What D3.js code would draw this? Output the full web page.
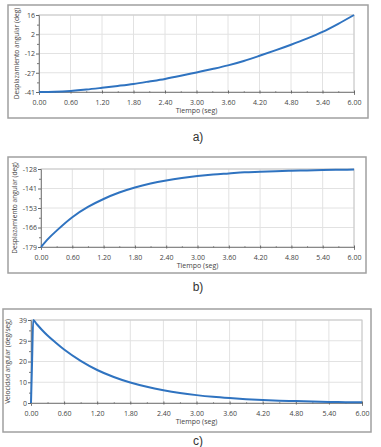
<!DOCTYPE html>
<html><head><meta charset="utf-8">
<script src="https://cdn.jsdelivr.net/npm/d3@7/dist/d3.min.js"></script>
<style>
body{margin:0;background:#fff;}
svg{display:block;font-family:"Open Sans","DejaVu Sans",sans-serif;}
</style></head>
<body><svg id="c" width="381" height="447"></svg>
<script>
// ---- data ----
const xTickLabels = ["0.00","0.60","1.20","1.80","2.40","3.00","3.60","4.20","4.80","5.40","6.00"];
const timeA = [0,0.3,0.6,0.9,1.2,1.5,1.8,2.1,2.4,2.7,3.0,3.3,3.6,3.9,4.2,4.5,4.8,5.1,5.4,5.7,6.0];
const despA = [-41,-40.8,-40.2,-39.2,-37.9,-36.5,-35,-33.2,-31.3,-29,-26.5,-24,-21.3,-18,-14.2,-10.2,-6,-1.5,3.5,9.5,16];
const yTicksA = ["-41","-27","-12","2","16"];

const timeB = [0,0.15,0.3,0.6,0.9,1.2,1.5,1.8,2.1,2.4,2.7,3.0,3.3,3.6,3.9,4.2,4.5,4.8,5.1,5.4,5.7,6.0];
const despB = [-179,-173.2,-168.3,-159.5,-152.8,-147.6,-143.4,-140.1,-137.5,-135.5,-133.9,-132.6,-131.6,-130.9,-130.2,-129.8,-129.4,-129.1,-128.9,-128.7,-128.5,-128.4];
const yTicksB = ["-179","-166","-153","-141","-128"];

const timeC = [0,0.02,0.04,0.1,0.2,0.3,0.45,0.6,0.9,1.2,1.5,1.8,2.1,2.4,2.7,3.0,3.3,3.6,3.9,4.2,4.5,4.8,5.1,5.4,5.7,6.0];
const velC  = [0,20,39,37.2,34.3,31.7,28.3,25.1,19.8,15.5,12.2,9.6,7.6,6.0,4.7,3.7,2.9,2.3,1.8,1.4,1.1,0.9,0.7,0.5,0.4,0.3];
const yTicksC = ["0","10","20","29","39"];

const panels = [
  {t:timeA, v:despA, yMin:-41, yMax:16, yLabels:yTicksA, yTitle:"Desplazamiento angular (deg)", cap:"a)",
   frame:[8,5,368,118], plot:[39,15,354,92], titleX:17, capY:141},
  {t:timeB, v:despB, yMin:-179, yMax:-128, yLabels:yTicksB, yTitle:"Desplazamiento angular (deg)", cap:"b)",
   frame:[8,157,366,273], plot:[41,169,354,247], titleX:15, capY:291},
  {t:timeC, v:velC, yMin:0, yMax:39, yLabels:yTicksC, yTitle:"Velocidad angular (deg/seg)", cap:"c)",
   frame:[3,309,371,432], plot:[31,320,362,403], titleX:8, capY:445}
];

const svg = d3.select("#c");
const lineColor = "#2f73c0";

panels.forEach(p => {
  const [fx0,fy0,fx1,fy1] = p.frame;
  const [px0,py0,px1,py1] = p.plot;
  svg.append("rect").attr("x",fx0).attr("y",fy0).attr("width",fx1-fx0).attr("height",fy1-fy0)
    .attr("fill","#fff").attr("stroke","#a0a0a0").attr("stroke-width",1.5);

  const x = d3.scaleLinear().domain([0,6]).range([px0,px1]);
  const y = d3.scaleLinear().domain([p.yMin,p.yMax]).range([py1,py0]);
  const xMajor = d3.range(11).map(i=>i*0.6);
  const xMinor = d3.range(10).map(i=>i*0.6+0.3);
  const yStep = (p.yMax-p.yMin)/4;
  const yMajor = d3.range(5).map(i=>p.yMin+i*yStep);
  const yMinor = d3.range(4).map(i=>p.yMin+(i+0.5)*yStep);

  const g = svg.append("g");
  // grid
  g.selectAll(".gx").data(xMajor).join("line")
    .attr("x1",d=>x(d)).attr("x2",d=>x(d)).attr("y1",py0).attr("y2",py1)
    .attr("stroke","#e2e2e2").attr("stroke-width",1);
  g.selectAll(".gy").data(yMajor).join("line")
    .attr("x1",px0).attr("x2",px1).attr("y1",d=>y(d)).attr("y2",d=>y(d))
    .attr("stroke","#e2e2e2").attr("stroke-width",1);
  g.append("rect").attr("x",px0).attr("y",py0).attr("width",px1-px0).attr("height",py1-py0)
    .attr("fill","none").attr("stroke","#c8c8c8").attr("stroke-width",1);

  // x axis
  const xAxis = d3.axisBottom(x).tickValues(xMajor).tickSize(3).tickPadding(5)
    .tickFormat((d,i)=>xTickLabels[i]);
  const xa = g.append("g").attr("transform",`translate(0,${py1})`).call(xAxis);
  xa.select(".domain").attr("stroke","#888");
  xa.selectAll(".tick line").attr("stroke","#666").attr("transform","translate(0,-1.5)");
  xa.selectAll("text").attr("font-size",7).attr("fill","#444").attr("font-family","'Open Sans','DejaVu Sans',sans-serif");
  g.append("g").attr("transform",`translate(0,${py1})`)
    .call(d3.axisBottom(x).tickValues(xMinor).tickSize(1.5).tickFormat(""))
    .call(s=>{s.select(".domain").remove(); s.selectAll("line").attr("stroke","#777").attr("transform","translate(0,-0.75)");});

  // y axis
  const yAxis = d3.axisLeft(y).tickValues(yMajor).tickSize(3).tickPadding(1)
    .tickFormat((d,i)=>p.yLabels[i]);
  const ya = g.append("g").attr("transform",`translate(${px0},0)`).call(yAxis);
  ya.select(".domain").attr("stroke","#888");
  ya.selectAll(".tick line").attr("stroke","#666");
  ya.selectAll("text").attr("font-size",7).attr("fill","#444").attr("font-family","'Open Sans','DejaVu Sans',sans-serif");
  g.append("g").attr("transform",`translate(${px0},0)`)
    .call(d3.axisLeft(y).tickValues(yMinor).tickSize(2).tickFormat(""))
    .call(s=>{s.select(".domain").remove(); s.selectAll("line").attr("stroke","#777");});

  // titles
  g.append("text").attr("x",(px0+px1)/2).attr("y",py1+21).attr("text-anchor","middle")
    .attr("font-size",7).attr("fill","#444").text("Tiempo (seg)");
  g.append("text").attr("transform",`translate(${p.titleX},${(py0+py1)/2}) rotate(-90)`)
    .attr("text-anchor","middle").attr("dy","0.35em").attr("font-size",6.6).attr("fill","#444").text(p.yTitle);

  // line
  const line = d3.line().x((d,i)=>x(p.t[i])).y(d=>y(d)).curve(d3.curveMonotoneX);
  g.append("path").datum(p.v).attr("d",line).attr("fill","none")
    .attr("stroke",lineColor).attr("stroke-width",2).attr("stroke-linejoin","round");

  // caption
  svg.append("text").attr("x",198).attr("y",p.capY).attr("text-anchor","middle")
    .attr("font-size",12).attr("fill","#333").attr("font-family","'Liberation Sans','Open Sans',sans-serif").text(p.cap);
});
</script></body></html>
